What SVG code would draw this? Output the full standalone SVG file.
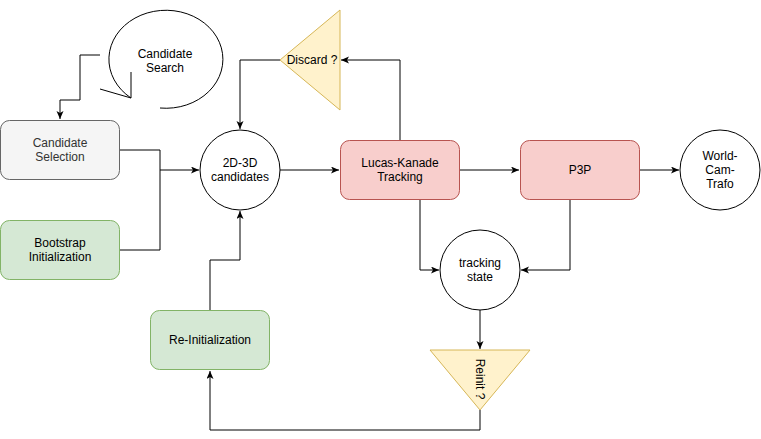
<svg xmlns="http://www.w3.org/2000/svg" width="761" height="439" viewBox="0 0 761 439">
<defs>
<marker id="arr" markerUnits="userSpaceOnUse" markerWidth="10" markerHeight="10" refX="8" refY="3.5" orient="auto">
<path d="M0,0 L8,3.5 L0,7 L2,3.5 Z" fill="#000"/>
</marker>
<style>
.t{font-family:"Liberation Sans",Arial,sans-serif;font-size:12px;fill:#000;text-anchor:middle}
.c{fill:none;stroke:#000;stroke-width:1}
.e{fill:#fff;stroke:#000;stroke-width:1}
.red{fill:#f8cecc;stroke:#b85450;stroke-width:1}
.green{fill:#d5e8d4;stroke:#82b366;stroke-width:1}
.gray{fill:#f5f5f5;stroke:#666666;stroke-width:1}
.yel{fill:#fff2cc;stroke:#d6b656;stroke-width:1}
</style>
</defs>
<rect width="761" height="439" fill="#fff"/>
<g id="connectors">
<path class="c" d="M100,55 L80,55 L80,100 L60,100 L60,119" marker-end="url(#arr)"/>
<path class="c" d="M120,150 L160,150 L160,170 L199,170" marker-end="url(#arr)"/>
<path class="c" d="M120,250 L160,250 L160,170"/>
<path class="c" d="M280,170 L339,170" marker-end="url(#arr)"/>
<path class="c" d="M400,140 L400,60 L341,60" marker-end="url(#arr)"/>
<path class="c" d="M280,60 L240,60 L240,129" marker-end="url(#arr)"/>
<path class="c" d="M460,170 L519,170" marker-end="url(#arr)"/>
<path class="c" d="M640,170 L679,170" marker-end="url(#arr)"/>
<path class="c" d="M420,200 L420,270 L439,270" marker-end="url(#arr)"/>
<path class="c" d="M570,200 L570,270 L521,270" marker-end="url(#arr)"/>
<path class="c" d="M480,310 L480,349" marker-end="url(#arr)"/>
<path class="c" d="M480,410 L480,430 L210,430 L210,371" marker-end="url(#arr)"/>
<path class="c" d="M210,310 L210,260 L240,260 L240,211" marker-end="url(#arr)"/>
</g>
<g id="candidate-search">
<path class="c" d="M160,108 A57,49 0 1 0 131,98 M100,89 L131,98 L131,72"/>
<text class="t" x="165" y="58">Candidate</text>
<text class="t" x="165" y="72">Search</text>
</g>
<g id="candidate-selection">
<rect class="gray" x="0.5" y="120.5" width="119" height="59" rx="9"/>
<text class="t" x="60" y="147" style="fill:#333">Candidate</text>
<text class="t" x="60" y="161" style="fill:#333">Selection</text>
</g>
<g id="bootstrap">
<rect class="green" x="0.5" y="220.5" width="119" height="59" rx="9"/>
<text class="t" x="60" y="247">Bootstrap</text>
<text class="t" x="60" y="261">Initialization</text>
</g>
<g id="candidates-2d3d">
<circle class="e" cx="240" cy="170" r="40"/>
<text class="t" x="240" y="167">2D-3D</text>
<text class="t" x="240" y="181">candidates</text>
</g>
<g id="discard">
<path class="yel" d="M340,10 L340,110 L280,60 Z"/>
<text class="t" x="312" y="64">Discard ?</text>
</g>
<g id="lucas-kanade">
<rect class="red" x="340.5" y="140.5" width="119" height="59" rx="9"/>
<text class="t" x="400" y="167">Lucas-Kanade</text>
<text class="t" x="400" y="181">Tracking</text>
</g>
<g id="p3p">
<rect class="red" x="520.5" y="140.5" width="119" height="59" rx="9"/>
<text class="t" x="580" y="174">P3P</text>
</g>
<g id="world-cam-trafo">
<circle class="e" cx="720" cy="170" r="40"/>
<text class="t" x="720" y="160">World-</text>
<text class="t" x="720" y="174">Cam-</text>
<text class="t" x="720" y="188">Trafo</text>
</g>
<g id="tracking-state">
<circle class="e" cx="480" cy="270" r="40"/>
<text class="t" x="480" y="267">tracking</text>
<text class="t" x="480" y="281">state</text>
</g>
<g id="reinit">
<path class="yel" d="M430,350 L530,350 L480,410 Z"/>
<text class="t" transform="translate(476,379) rotate(90)">Reinit ?</text>
</g>
<g id="re-initialization">
<rect class="green" x="150.5" y="310.5" width="119" height="59" rx="9"/>
<text class="t" x="210" y="344">Re-Initialization</text>
</g>
</svg>
